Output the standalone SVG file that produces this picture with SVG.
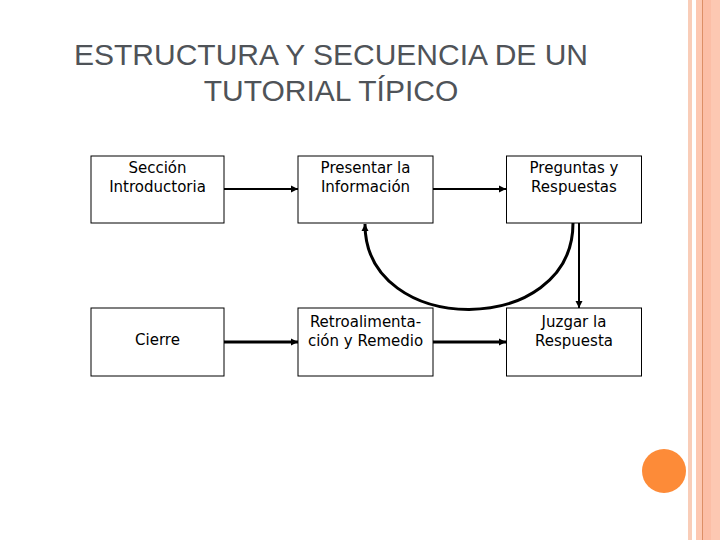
<svg xmlns="http://www.w3.org/2000/svg" width="720" height="540" viewBox="0 0 720 540">
<style>
.box{fill:#fff;stroke:#000;stroke-width:1}
.lbl{font-family:"DejaVu Sans",sans-serif;font-size:15px;fill:#000;text-anchor:middle}
.title{font-family:"Liberation Sans",Arial,sans-serif;font-size:30px;fill:#4f5358;text-anchor:middle}
.c{fill:none;stroke:#000;stroke-width:2}
.c3{fill:none;stroke:#000;stroke-width:3}
</style>
<defs>
<marker id="ah" markerUnits="userSpaceOnUse" markerWidth="8" markerHeight="8" refX="7" refY="4" orient="auto">
<path d="M0,0.5 L7,4 L0,7.5 Z" fill="#000"/>
</marker>
</defs>
<rect width="720" height="540" fill="#fff"/>
<g id="border">
<rect x="688" y="0" width="4" height="540" fill="#f9cdb8"/>
<rect x="696" y="0" width="24" height="540" fill="#fdc8b2"/>
<rect x="703" y="0" width="8" height="540" fill="#fcbea6"/>
<rect x="702" y="0" width="1" height="540" fill="#dd8f66"/>
</g>
<circle cx="664" cy="471" r="22" fill="#fd8b38"/>
<g id="title">
<text class="title" x="331" y="65">ESTRUCTURA Y SECUENCIA DE UN</text>
<text class="title" x="331" y="101">TUTORIAL TÍPICO</text>
</g>
<g id="n1"><rect class="box" x="91" y="156" width="133" height="67"/><text class="lbl" x="157.5" y="173">Sección</text><text class="lbl" x="157.5" y="192">Introductoria</text></g>
<g id="n2"><rect class="box" x="298" y="156" width="135" height="67"/><text class="lbl" x="365.5" y="173">Presentar la</text><text class="lbl" x="365.5" y="192">Información</text></g>
<g id="n3"><rect class="box" x="506.5" y="156" width="135" height="67"/><text class="lbl" x="574" y="173">Preguntas y</text><text class="lbl" x="574" y="192">Respuestas</text></g>
<g id="n4"><rect class="box" x="91" y="308" width="133" height="68"/><text class="lbl" x="157.5" y="345">Cierre</text></g>
<g id="n5"><rect class="box" x="298" y="308" width="135" height="68"/><text class="lbl" x="365.5" y="327">Retroalimenta-</text><text class="lbl" x="365.5" y="346">ción y Remedio</text></g>
<g id="n6"><rect class="box" x="506.5" y="308" width="135" height="68"/><text class="lbl" x="574" y="327">Juzgar la</text><text class="lbl" x="574" y="346">Respuesta</text></g>
<g id="connectors">
<line class="c" x1="224" y1="189" x2="298" y2="189" marker-end="url(#ah)"/>
<line class="c" x1="433" y1="189" x2="506" y2="189" marker-end="url(#ah)"/>
<line class="c3" x1="224" y1="342" x2="298" y2="342" marker-end="url(#ah)"/>
<line class="c3" x1="433" y1="342" x2="506" y2="342" marker-end="url(#ah)"/>
<line class="c" x1="579" y1="223" x2="579" y2="308" marker-end="url(#ah)"/>
<path class="c3" d="M573,223 C573,338 365,338 365,224" marker-end="url(#ah)"/>
</g>
</svg>
